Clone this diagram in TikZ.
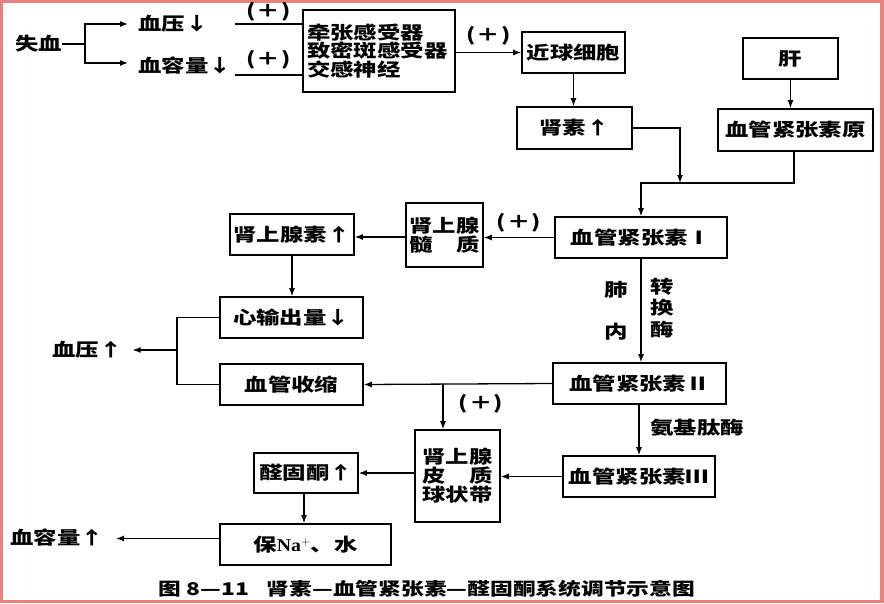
\documentclass[tikz,border=0pt]{standalone}
\usepackage{fontspec}
\setmainfont{Noto Sans CJK SC}[BoldFont={* Black},FakeStretch=1.3]
\newfontfamily\latinfont{Liberation Serif}[FakeStretch=1.1]
\usetikzlibrary{arrows.meta}
\definecolor{bordercol}{HTML}{E88080}
\newcommand\lblfont{\fontsize{18}{19}\selectfont\bfseries}
\newcommand\plusmark{(\kern1pt＋\kern1pt)}
\begin{document}
\begin{tikzpicture}[x=1pt,y=-1pt,
  box/.style={draw, line width=1.6pt, inner sep=0pt, align=center, font=\lblfont},
  txt/.style={inner sep=0pt, font=\lblfont},
  conn/.style={line width=1.3pt},
  arr/.style={conn, -{Latex[length=8pt,width=6pt]}}]
\useasboundingbox (0,0) rectangle (884,603);
\fill[bordercol] (0,0) rectangle (884,603);
\fill[white] (3,3) rectangle (880,600);

% boxes
\node[box, align=left, text width=144pt, inner xsep=4pt, minimum height=82pt,
  font=\fontsize{18}{18.5}\selectfont\bfseries] (recep) at (379,51)
  {牵张感受器\\致密斑感受器\\交感神经};
\node[box, minimum width=103pt, minimum height=41pt] (jg) at (573.5,52.5) {近球细胞};
\node[box, minimum width=115pt, minimum height=42pt] (renin) at (574.5,128) {肾素↑};
\node[box, minimum width=95pt, minimum height=41pt] (liver) at (790.5,58.5) {肝};
\node[box, minimum width=155pt, minimum height=42pt] (agt) at (795.5,130) {血管紧张素原};
\node[box, minimum width=172pt, minimum height=41pt] (ang1) at (641,237.5) {血管紧张素Ⅰ};
\node[box, minimum width=77pt, minimum height=64pt] (med) at (444.5,235) {肾上腺\\髓\phantom{上}质};
\node[box, minimum width=124pt, minimum height=41pt] (epi) at (292,234.5) {肾上腺素↑};
\node[box, minimum width=143pt, minimum height=41pt] (co) at (291.5,317.5) {心输出量↓};
\node[box, minimum width=143pt, minimum height=41pt] (vc) at (291.5,384.5) {血管收缩};
\node[box, minimum width=173pt, minimum height=41pt] (ang2) at (639.5,383.5) {血管紧张素Ⅱ};
\node[box, minimum width=152pt, minimum height=41pt] (ang3) at (639,476.5) {血管紧张素Ⅲ};
\node[box, minimum width=85pt, minimum height=92pt] (ctx) at (457.5,476) {肾上腺\\皮\phantom{上}质\\球状带};
\node[box, minimum width=104pt, minimum height=40pt] (ald) at (306,473) {醛固酮↑};
\node[box, minimum width=171pt, minimum height=41pt] (na) at (305.5,544.5) {保{\latinfont Na}$^{\mathbf{+}}$、水};

% free texts
\node[txt, anchor=west] (loss) at (15,44) {失血};
\node[txt, anchor=west] (bp) at (138,24) {血压↓};
\node[txt, anchor=west] (bv) at (138,66) {血容量↓};
\node[txt, anchor=west] (bpup) at (52,350) {血压↑};
\node[txt, anchor=west] (bvup) at (10,538) {血容量↑};
\node[txt] (fei) at (616,290) {肺};
\node[txt] (nei) at (616,332) {内};
\node[txt, align=center, font=\fontsize{18}{21.5}\selectfont\bfseries] (zhm) at (662,308) {转\\换\\酶};
\node[txt, anchor=west] (ajt) at (650,428) {氨基肽酶};
\node[txt, font=\fontsize{17.5}{19}\selectfont\bfseries] (cap) at (427,589) {图 8—11\hspace{1em}肾素—血管紧张素—醛固酮系统调节示意图};

% connectors
\coordinate (j1) at (85,44);
\draw[conn] (loss.east) -- (j1);
\draw[arr, shorten >=10pt] (j1) |- (bp.west);
\draw[arr, shorten >=10pt] (j1) |- ([yshift=3pt]bv.west);
\coordinate (l1) at (235,24);
\coordinate (l2) at (235,75);
\draw[conn] (l1) -- (l1 -| recep.west) node[txt, midway, yshift=12.5pt] (p1) {\plusmark};
\draw[conn] (l2) -- (l2 -| recep.west) node[txt, midway, yshift=15pt] (p2) {\plusmark};

\draw[arr] (recep.east |- jg.west) -- (jg.west) node[txt, midway, yshift=17pt] (p3) {\plusmark};
\draw[arr] (jg.south) -- (jg.south |- renin.north);
\coordinate (j3) at (680,183);
\draw[arr] (renin.east) -| (j3);
\draw[arr] (liver.south) -- (liver.south |- agt.north);
\draw[arr] (agt.south -| 794,0) |- (j3) -| (ang1.north);

\draw[arr] (ang1.west) -- (med.east |- ang1.west) node[txt, midway, yshift=15pt] (p4) {\plusmark};
\draw[arr] (med.west |- 0,237) -- (epi.east |- 0,237);
\draw[arr] (epi.south) -- (epi.south |- co.north);
\coordinate (j2) at (177,350);
\draw[conn] (co.west) -| (j2) |- (vc.west);
\draw[arr, shorten >=10pt] (j2) -- (bpup.east);

\draw[arr] (ang1.south) -- (ang1.south |- ang2.north);
\draw[arr] (ang2.west) -- (vc.east);
\coordinate (j4) at (443,383.5);
\draw[arr] (j4) -- (j4 |- ctx.north) node[txt, pos=0.45, xshift=38pt] (p5) {\plusmark};
\draw[arr] (ang2.south -| 639,0) -- (ang3.north -| 639,0);
\draw[arr] (ang3.west) -- (ctx.east |- ang3.west);
\draw[arr] (ctx.west |- ald.east) -- (ald.east);
\draw[arr] (ald.south -| 304,0) -- (na.north -| 304,0);
\draw[arr, shorten >=12pt] ([yshift=6pt]na.west) -- ([yshift=6pt]na.west -| bvup.east);
\end{tikzpicture}
\end{document}
